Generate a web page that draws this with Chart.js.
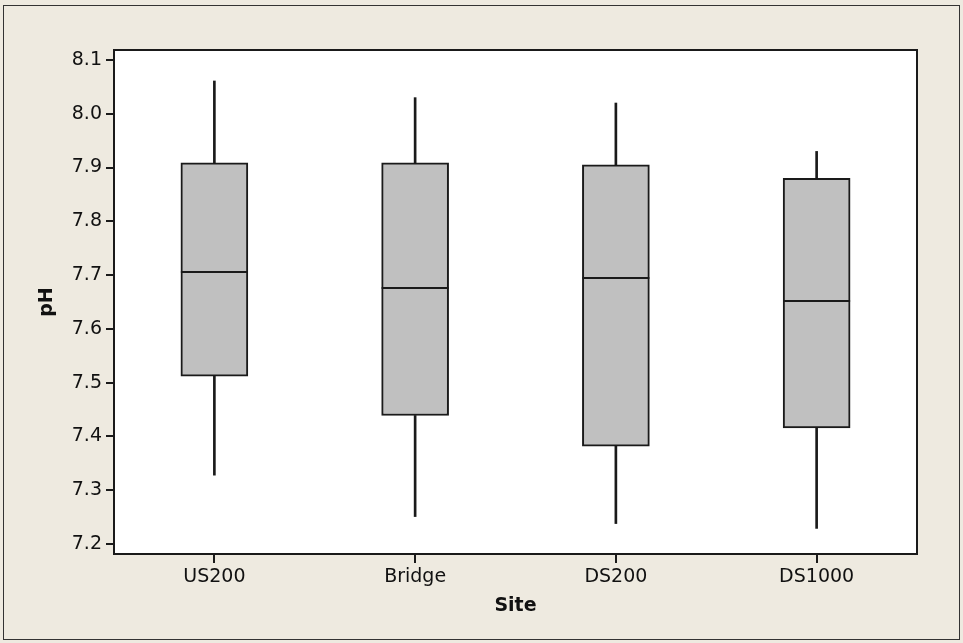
<!DOCTYPE html>
<html>
<head>
<meta charset="utf-8">
<script src="https://cdn.jsdelivr.net/npm/chart.js@4"></script>
<style>
  html, body { margin: 0; padding: 0; background: #EEEAE0; }
  canvas { display: block; }
</style>
</head>
<body>
<canvas id="graficoPH" width="963" height="643"></canvas>
<script>
const sites = ['US200', 'Bridge', 'DS200', 'DS1000'];
const whiskerLow = [7.328, 7.251, 7.238, 7.229];
const q1 = [7.512, 7.439, 7.382, 7.416];
const median = [7.705, 7.676, 7.695, 7.652];
const q3 = [7.909, 7.909, 7.905, 7.880];
const whiskerHigh = [8.061, 8.030, 8.020, 7.930];
const yTicks = [7.2, 7.3, 7.4, 7.5, 7.6, 7.7, 7.8, 7.9, 8.0, 8.1];

const ink = '#1a1a1a';
const fonte = 'DejaVu Sans';

// fundo, moldura e linhas de mediana
const moldura = {
  id: 'moldura',
  beforeDraw(chart) {
    const { ctx, chartArea: a } = chart;
    ctx.save();
    ctx.fillStyle = '#EEEAE0';
    ctx.fillRect(0, 0, chart.width, chart.height);
    ctx.strokeStyle = '#333';
    ctx.lineWidth = 1;
    ctx.strokeRect(3.5, 5.5, 956, 634);
    ctx.fillStyle = '#ffffff';
    ctx.fillRect(a.left, a.top, a.right - a.left, a.bottom - a.top);
    ctx.restore();
  },
  afterDatasetsDraw(chart) {
    const { ctx, chartArea: a } = chart;
    const y = chart.scales.y;
    const meta = chart.getDatasetMeta(2);
    ctx.save();
    ctx.strokeStyle = ink;
    ctx.lineWidth = 2;
    meta.data.forEach((bar, i) => {
      const py = Math.round(y.getPixelForValue(median[i]));
      ctx.beginPath();
      ctx.moveTo(bar.x - bar.width / 2, py);
      ctx.lineTo(bar.x + bar.width / 2, py);
      ctx.stroke();
    });
    ctx.strokeRect(a.left, a.top, a.right - a.left, a.bottom - a.top);
    ctx.restore();
  }
};

const ctx = document.getElementById('graficoPH').getContext('2d');
new Chart(ctx, {
  type: 'bar',
  data: {
    labels: sites,
    datasets: [
      {
        data: sites.map((s, i) => [whiskerLow[i], q1[i]]),
        backgroundColor: ink,
        barThickness: 2,
        grouped: false
      },
      {
        data: sites.map((s, i) => [q3[i], whiskerHigh[i]]),
        backgroundColor: ink,
        barThickness: 2,
        grouped: false
      },
      {
        data: sites.map((s, i) => [q1[i], q3[i]]),
        backgroundColor: '#C0C0C0',
        borderColor: ink,
        borderWidth: 2,
        borderSkipped: false,
        barThickness: 67,
        grouped: false
      }
    ]
  },
  options: {
    responsive: false,
    animation: false,
    layout: { padding: { left: 30, top: 50, right: 46, bottom: 26 } },
    plugins: {
      legend: { display: false },
      tooltip: { enabled: false }
    },
    scales: {
      x: {
        offset: true,
        border: { display: false },
        grid: { display: true, drawOnChartArea: false, drawTicks: true, tickLength: 9, color: ink, lineWidth: 2, offset: false },
        ticks: { color: '#111', font: { family: fonte, size: 19 }, padding: 3, maxRotation: 0 },
        title: { display: true, text: 'Site', color: '#111', font: { family: fonte, size: 19, weight: 'bold' }, padding: { top: 0, bottom: 0 } },
        afterFit: s => { s.height = 63; }
      },
      y: {
        min: 7.1814,
        max: 8.1186,
        border: { display: false },
        grid: { display: true, drawOnChartArea: false, drawTicks: true, tickLength: 8, color: ink, lineWidth: 2 },
        ticks: { color: '#111', font: { family: fonte, size: 19 }, padding: 4, callback: v => Number(v).toFixed(1) },
        afterBuildTicks: s => { s.ticks = yTicks.map(v => ({ value: v })); },
        title: { display: true, text: 'pH', color: '#111', font: { family: fonte, size: 19, weight: 'bold' }, padding: { top: 6, bottom: 0 } },
        afterFit: s => { s.width = 84; }
      }
    }
  },
  plugins: [moldura]
});
</script>
</body>
</html>
